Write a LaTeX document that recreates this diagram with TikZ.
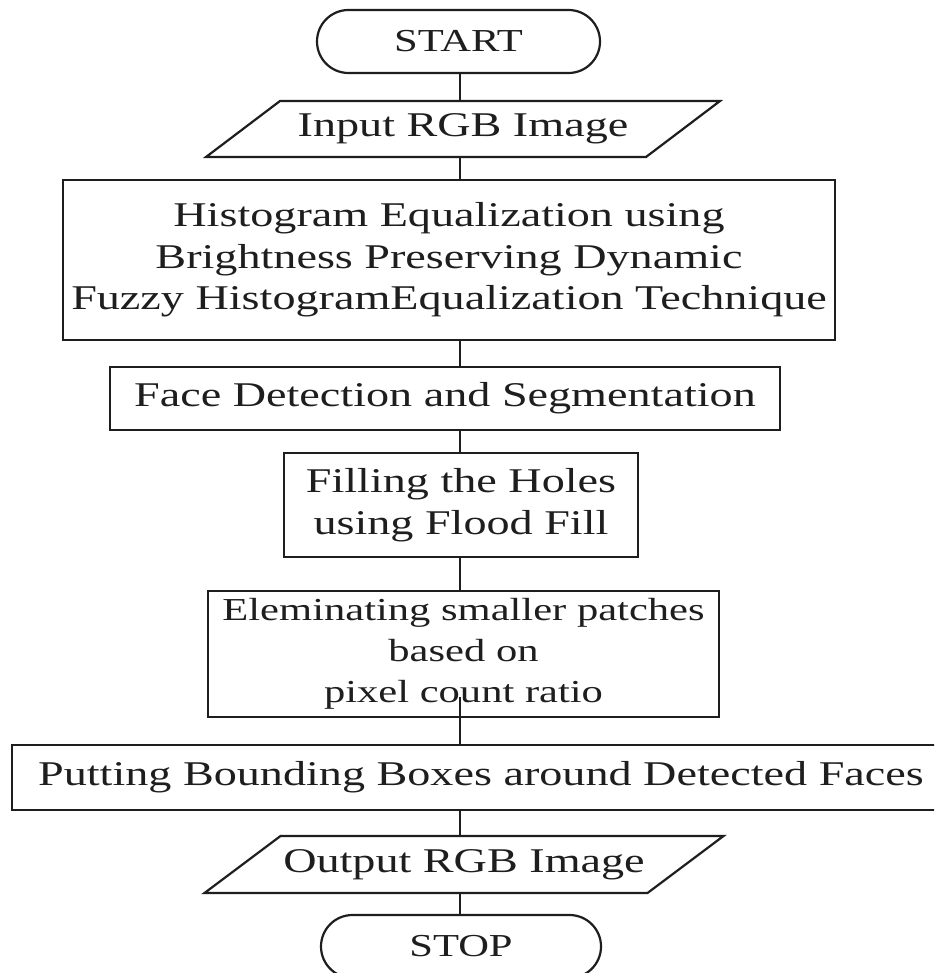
\documentclass[tikz,border=0pt]{standalone}
\usepackage{fontspec}
\setmainfont{Liberation Serif}[FakeStretch=1.33]
\usetikzlibrary{shapes.misc,calc}
\definecolor{ink}{HTML}{1E1E1E}
\begin{document}
\begin{tikzpicture}[x=1pt,y=-1pt,
  every node/.style={align=center, inner sep=0pt, outer sep=0pt, text=ink},
  big/.style={font=\fontsize{34.7}{41.7}\selectfont},
  small/.style={font=\fontsize{32}{41}\selectfont},
  box/.style={draw=ink, line width=2.2pt, rectangle},
  term/.style={draw=ink, line width=2.2pt, rounded rectangle, font=\fontsize{32}{38}\selectfont},
  link/.style={draw=ink, line width=2.2pt},
  ioshape/.style={draw=ink, line width=2.2pt, line join=miter}]
\clip (0,0) rectangle (934,973);
\fill[white] (0,0) rectangle (934,973);
\coordinate (ax) at (460,0);

\node[term, minimum width=283pt, minimum height=63pt] (start) at (458.5,41.5) {START};

\node[big, minimum width=440pt, minimum height=56pt] (in) at (463,129) {Input RGB Image};
\draw[ioshape] ($(in.north west)+(37,0)$) -- ($(in.north east)+(37,0)$)
  -- ($(in.south east)+(-37,0)$) -- ($(in.south west)+(-37,0)$) -- cycle;

\node[box, big, minimum width=772pt, minimum height=160pt] (he) at (449,260)
  {Histogram Equalization using\\Brightness Preserving Dynamic\\Fuzzy HistogramEqualization Technique};

\node[box, big, minimum width=670pt, minimum height=63pt] (fd) at (445,398.5)
  {Face Detection and Segmentation};

\node[box, big, minimum width=354pt, minimum height=104pt] (ff) at (461,505)
  {Filling the Holes\\using Flood Fill};

\node[box, small, minimum width=511pt, minimum height=126pt] (el) at (463.5,654)
  {Eleminating smaller patches\\based on\\pixel count ratio};

\node[box, big, minimum width=938pt, minimum height=65pt] (pb) at (481,777.5)
  {Putting Bounding Boxes around Detected Faces};

\node[big, minimum width=443pt, minimum height=57pt] (out) at (464,864.5) {Output RGB Image};
\draw[ioshape] ($(out.north west)+(38,0)$) -- ($(out.north east)+(38,0)$)
  -- ($(out.south east)+(-38,0)$) -- ($(out.south west)+(-38,0)$) -- cycle;

\node[term, minimum width=280pt, minimum height=63pt] (stop) at (461,946.5) {STOP};

\draw[link] (ax |- start.south) -- (ax |- in.north);
\draw[link] (ax |- in.south) -- (ax |- he.north);
\draw[link] (ax |- he.south) -- (ax |- fd.north);
\draw[link] (ax |- fd.south) -- (ax |- ff.north);
\draw[link] (ax |- ff.south) -- (ax |- el.north);
\draw[link] ($(ax |- el.south)+(0,-20)$) -- (ax |- pb.north);
\draw[link] (ax |- pb.south) -- (ax |- out.north);
\draw[link] (ax |- out.south) -- (ax |- stop.north);
\end{tikzpicture}
\end{document}
